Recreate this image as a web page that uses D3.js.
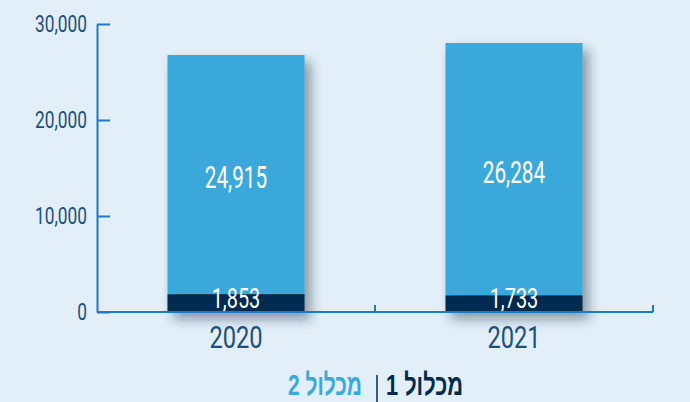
<!DOCTYPE html>
<html><head><meta charset="utf-8">
<script src="https://cdn.jsdelivr.net/npm/d3@7"></script>
<style>
html,body{margin:0;padding:0;background:#e2eef8;}
svg{display:block;}
text{font-family:Roboto,"Liberation Sans",sans-serif;}
</style></head>
<body>
<svg id="chart" width="690" height="402"></svg>
<script>
const years = ["2020", "2021"];
const cluster1 = [1853, 1733];     // מכלול 1 (dark, bottom)
const cluster2 = [24915, 26284];   // מכלול 2 (light, top)
const yTicks = [0, 10000, 20000, 30000];
const legendLabels = ["מכלול 1", "מכלול 2"];

const W = 690, H = 402;
const colLight = "#3aa8dc", colDark = "#002b50", colAxis = "#1b7bc4", colText = "#1d4f7e";
const svg = d3.select("#chart");

// horizontally condense a text selection
function condense(sel, k) {
  sel.each(function() {
    const w = this.getComputedTextLength();
    d3.select(this).attr("textLength", w * k).attr("lengthAdjust", "spacingAndGlyphs");
  });
}

const defs = svg.append("defs");
const f = defs.append("filter").attr("id","shadow").attr("x","-30%").attr("y","-30%").attr("width","170%").attr("height","170%");
f.append("feDropShadow").attr("dx",6).attr("dy",7).attr("stdDeviation",6)
 .attr("flood-color","#1a2a3a").attr("flood-opacity",0.45);

const x = d3.scaleBand().domain(years).range([97, 653]).padding(0);
const y = d3.scaleLinear().domain([0, 30000]).range([312, 24]);
const barW = x.bandwidth() * 0.493;

// bars
const g = svg.append("g");
years.forEach((yr, i) => {
  const cx = x(yr) + x.bandwidth() / 2;
  const bg = g.append("g").attr("filter", "url(#shadow)");
  const tot = cluster1[i] + cluster2[i];
  bg.append("rect").attr("x", cx - barW/2).attr("width", barW)
    .attr("y", y(tot)).attr("height", y(cluster1[i]) - y(tot)).attr("fill", colLight);
  bg.append("rect").attr("x", cx - barW/2).attr("width", barW)
    .attr("y", y(cluster1[i])).attr("height", y(0) - y(cluster1[i])).attr("fill", colDark);
});
// value labels
years.forEach((yr, i) => {
  const cx = x(yr) + x.bandwidth() / 2;
  const tot = cluster1[i] + cluster2[i];
  g.append("text").attr("class","vbig").attr("x", cx).attr("y", (y(cluster1[i]) + y(tot)) / 2 + 3)
    .attr("dy", "0.35em").attr("text-anchor", "middle")
    .attr("fill", "#fff").attr("font-size", 31).text(d3.format(",")(cluster2[i]));
  g.append("text").attr("class","vsmall").attr("x", cx).attr("y", y(0) - 4)
    .attr("text-anchor", "middle")
    .attr("fill", "#fff").attr("font-size", 28).text(d3.format(",")(cluster1[i]));
});
condense(g.selectAll(".vbig"), 0.67);
condense(g.selectAll(".vsmall"), 0.71);

// y axis
const yAxis = d3.axisLeft(y).tickValues(yTicks).tickFormat(d3.format(","))
  .tickSizeInner(-13).tickSizeOuter(0).tickPadding(10);
const ya = svg.append("g").attr("transform", "translate(97,0)").call(yAxis);
ya.select(".domain").attr("stroke", colAxis).attr("stroke-width", 2);
ya.selectAll(".tick line").attr("stroke", colAxis).attr("stroke-width", 2);
ya.selectAll(".tick text").attr("fill", colText).attr("font-size", 24)
  .attr("font-weight", 400)
  .style("font-family", 'Roboto,"Liberation Sans",sans-serif');
condense(ya.selectAll(".tick text"), 0.72);

// x axis
const xa = svg.append("g");
xa.append("line").attr("x1", 97).attr("x2", 653).attr("y1", y(0)).attr("y2", y(0))
  .attr("stroke", colAxis).attr("stroke-width", 2);
years.forEach(yr => {
  const tx = x(yr) + x.bandwidth();
  xa.append("line").attr("x1", tx).attr("x2", tx).attr("y1", y(0)).attr("y2", y(0) - 7)
    .attr("stroke", colAxis).attr("stroke-width", 2);
  xa.append("text").attr("class","yr").attr("x", x(yr) + x.bandwidth()/2).attr("y", 348)
    .attr("text-anchor", "middle").attr("fill", colText).attr("font-size", 32)
    .attr("font-weight", 400).text(yr);
});
condense(xa.selectAll(".yr"), 0.74);

// legend (condensed with a horizontal scale transform)
const lg = svg.append("g");
function legendText(str, xLeft, width, color) {
  const t = lg.append("text").attr("x", 0).attr("y", 0).attr("text-anchor", "start")
    .attr("fill", color).attr("font-size", 30).attr("font-weight", "bold")
    .style("font-family", '"Liberation Sans",sans-serif').text(str);
  const w = t.node().getComputedTextLength();
  t.attr("transform", `translate(${xLeft},395) scale(${width / w},1)`);
}
legendText(legendLabels[0], 386, 77, colDark);
lg.append("line").attr("x1", 377).attr("x2", 377).attr("y1", 375).attr("y2", 402)
  .attr("stroke", colDark).attr("stroke-width", 1.5);
legendText(legendLabels[1], 288, 74, colLight);
</script>
</body></html>
